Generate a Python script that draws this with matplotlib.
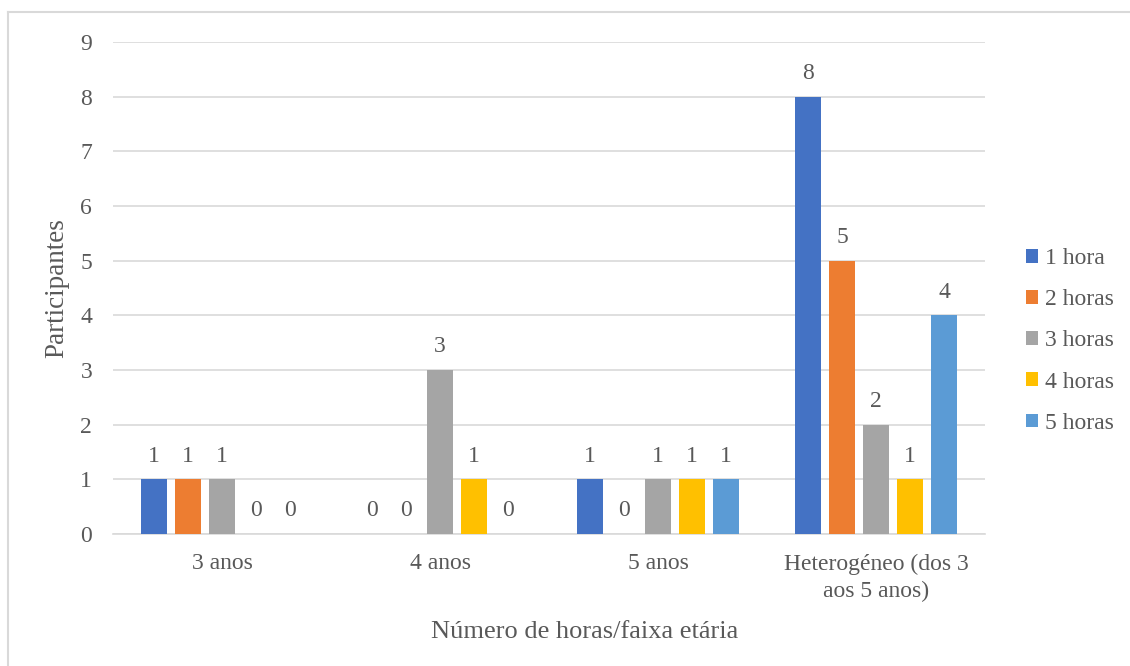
import matplotlib
matplotlib.use("Agg")
import matplotlib.pyplot as plt
from matplotlib.lines import Line2D
import numpy as np

categories = ["3 anos", "4 anos", "5 anos", "Heterogéneo (dos 3\naos 5 anos)"]
series_names = ["1 hora", "2 horas", "3 horas", "4 horas", "5 horas"]
values = {
    "1 hora":  [1, 0, 1, 8],
    "2 horas": [1, 0, 0, 5],
    "3 horas": [1, 3, 1, 2],
    "4 horas": [0, 1, 1, 1],
    "5 horas": [0, 0, 1, 4],
}
colors = ["#4472C4", "#ED7D31", "#A5A5A5", "#FFC000", "#5B9BD5"]
y_ticks = list(range(0, 10))

plt.rcParams['font.family'] = ['Liberation Serif', 'DejaVu Serif']
txt = "#595959"

fig = plt.figure(figsize=(11.3, 6.66), dpi=100)
bx, by = 8/1130, (666 - 12)/666
fig.add_artist(Line2D([bx, 1.0], [by, by], transform=fig.transFigure, color="#D9D9D9", linewidth=1.5))
fig.add_artist(Line2D([bx, bx], [0.0, by], transform=fig.transFigure, color="#D9D9D9", linewidth=1.5))
ax = fig.add_axes([113/1130, 132/666, 872/1130, 492/666])

x = np.arange(len(categories))
step = 34/218
width = 26/218
for i, name in enumerate(series_names):
    pos = x + (i - 2) * step
    ax.bar(pos, values[name], width=width, color=colors[i], label=name, zorder=3)
    for p, v in zip(pos, values[name]):
        ax.annotate(str(v), (p, v), xytext=(0, 9), textcoords="offset points",
                    ha="center", va="bottom", fontsize=17, color=txt)

ax.set_xlim(-0.5, len(categories) - 0.5)
ax.set_ylim(0, 9)
ax.set_yticks(y_ticks)
ax.set_xticks(x)
ax.set_xticklabels(categories, fontsize=17, color=txt, linespacing=1.4)
ax.tick_params(axis='y', labelsize=17, labelcolor=txt, length=0, pad=15)
ax.tick_params(axis='x', length=0, pad=14)
ax.grid(axis='y', color="#D9D9D9", linewidth=1.2, zorder=0)
for s in ["top", "right", "left"]:
    ax.spines[s].set_visible(False)
ax.spines["bottom"].set_color("#D9D9D9")
ax.spines["bottom"].set_linewidth(1.2)

ax.set_ylabel("Participantes", fontsize=19.5, color=txt, labelpad=8)
ax.set_xlabel("Número de horas/faixa etária", fontsize=19, color=txt)
ax.xaxis.label.set_va("center")
ax.xaxis.set_label_coords((585 - 113) / 872, (534 - 632) / 492)

ax.legend(loc="center left", bbox_to_anchor=(1026/1130, (666 - 341)/666), bbox_transform=fig.transFigure,
          frameon=False, fontsize=17, handlelength=0.5, handleheight=0.5,
          handletextpad=0.3, labelspacing=0.85, labelcolor=txt,
          borderpad=0, borderaxespad=0)

fig.savefig("out.png", dpi=100)
